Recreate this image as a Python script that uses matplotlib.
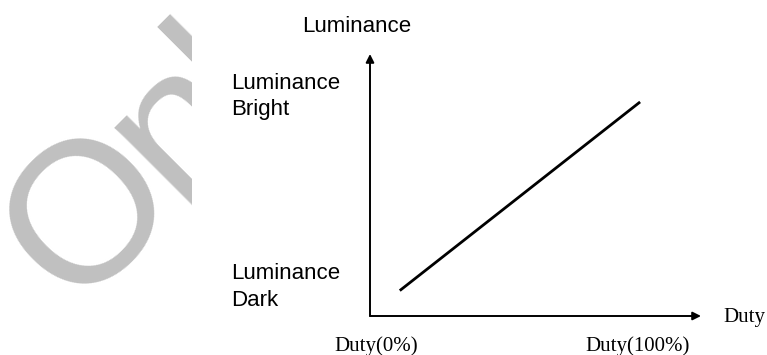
import matplotlib
matplotlib.use("Agg")
import matplotlib.pyplot as plt
from matplotlib.transforms import Bbox, TransformedBbox

# Luminance vs duty (percent of the axis length)
duty = [9.0, 81.6]
luminance = [9.7, 81.7]

y_name = "Luminance"
x_name = "Duty"
level_labels = ["Luminance\nBright", "Luminance\nDark"]
duty_labels = ["Duty(0%)", "Duty(100%)"]
watermark = ["O", "n", "ly"]   # "Only...", cut off by the chart panel

W, H = 767, 355
fig = plt.figure(figsize=(W / 100, H / 100), dpi=100)


def px(x, y):
    # pixel position (from top-left) -> figure fraction
    return x / W, 1 - y / H


# faint watermark, one piece per glyph group (tight spacing), cut at x=192
clip = TransformedBbox(Bbox([[0, 0], [192 / W, 1]]), fig.transFigure)
wm_pos = [(73, 309), (178, 206), (251, 134)]
wm_size = [145, 150, 150]
for piece, (x0, y0), size in zip(watermark, wm_pos, wm_size):
    t = fig.text(*px(x0, y0), piece, fontsize=size, family="Liberation Sans",
                 color="#c0c0c0", rotation=45, rotation_mode="anchor",
                 ha="left", va="baseline")
    t.set_clip_box(clip)
    t.set_clip_on(True)

# axes: origin at (370, 316), arrows to (701, 316) and (370, 54)
ax = fig.add_axes([370 / W, 39 / H, 331 / W, 262 / H])
ax.set_xlim(0, 100)
ax.set_ylim(0, 100)
ax.axis("off")

arrow = dict(arrowstyle="-|>", color="black", lw=1.4, mutation_scale=12,
             shrinkA=0, shrinkB=0)
ax.annotate("", xy=(100, 0), xytext=(0, 0), arrowprops=arrow, annotation_clip=False)
ax.annotate("", xy=(0, 100), xytext=(0, 0), arrowprops=arrow, annotation_clip=False)

ax.plot(duty, luminance, color="black", lw=2.0, solid_capstyle="butt")

sans = dict(family="Liberation Sans", fontsize=16, color="black", va="baseline")
serif = dict(family="Liberation Serif", fontsize=15, color="black", va="baseline")

fig.text(*px(302, 32), y_name, ha="left", **sans)
fig.text(*px(231, 89), level_labels[0].split("\n")[0], ha="left", **sans)
fig.text(*px(231, 115), level_labels[0].split("\n")[1], ha="left", **sans)
fig.text(*px(231, 279), level_labels[1].split("\n")[0], ha="left", **sans)
fig.text(*px(231, 306), level_labels[1].split("\n")[1], ha="left", **sans)

fig.text(*px(723, 322), x_name, ha="left", **serif)
fig.text(*px(376, 351), duty_labels[0], ha="center", **serif)
fig.text(*px(638, 351), duty_labels[1], ha="center", **serif)

fig.savefig("out.png", dpi=100, facecolor="white")
